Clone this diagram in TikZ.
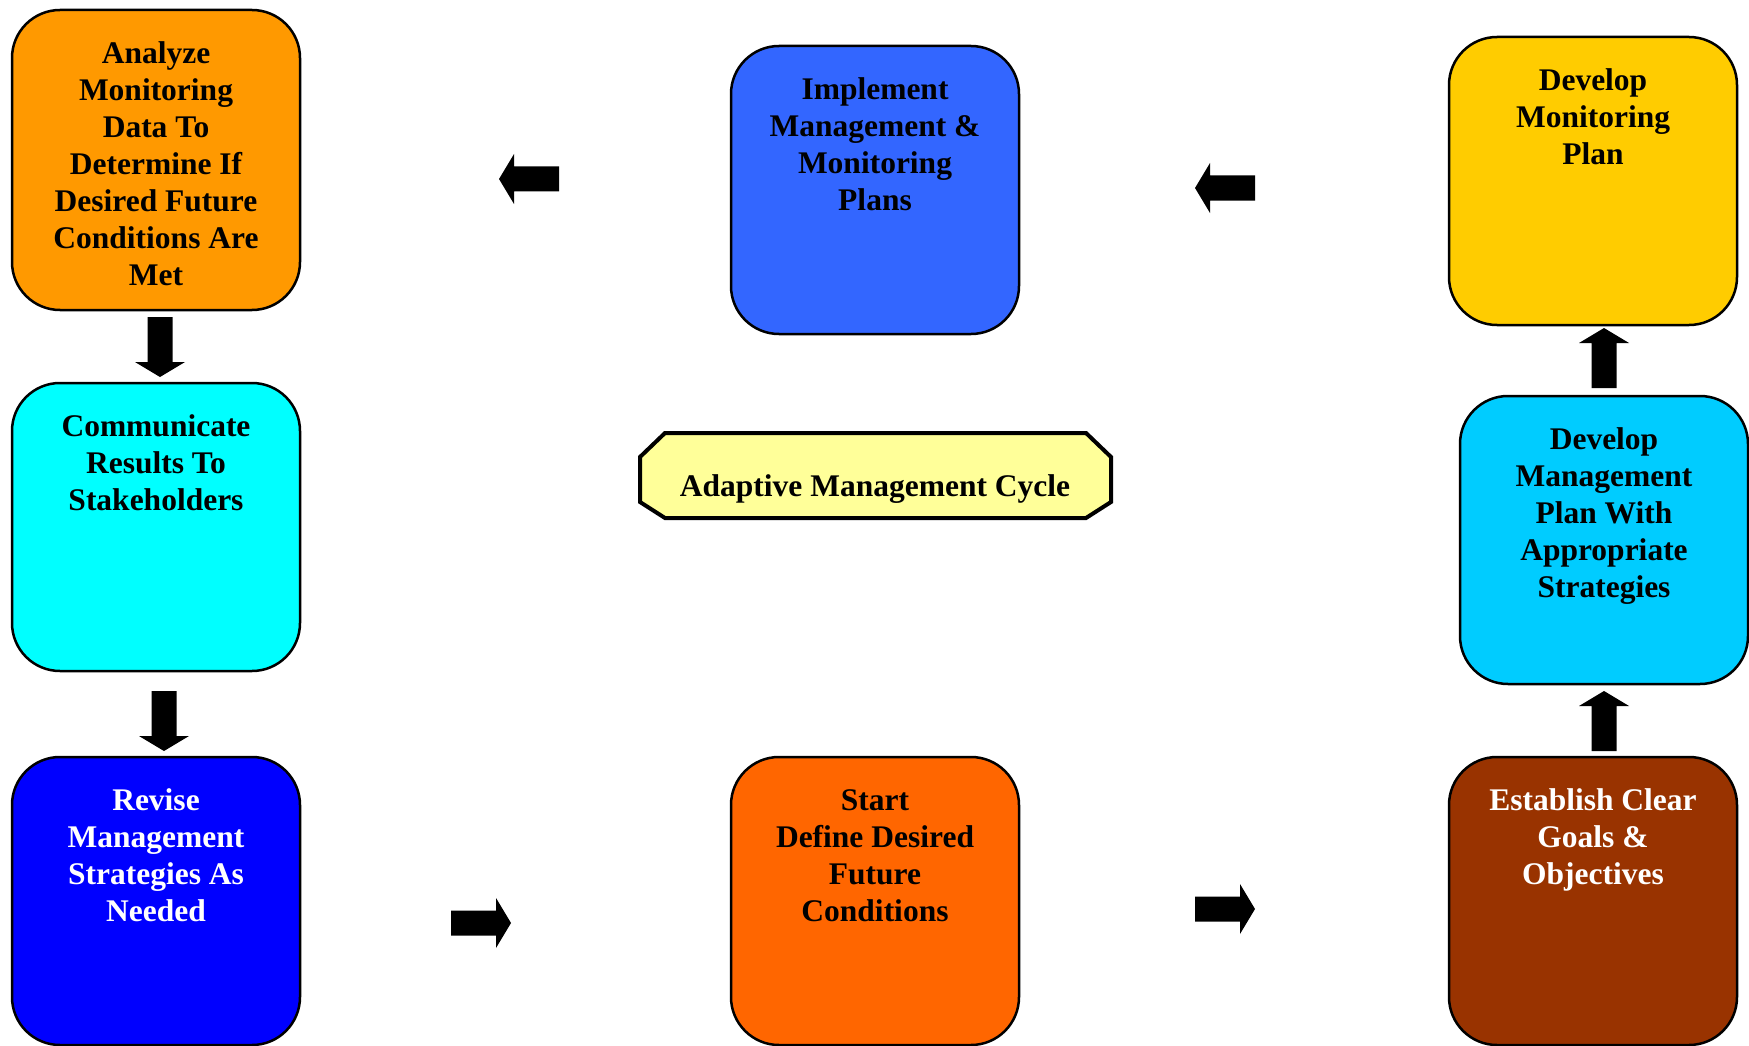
\documentclass[tikz,border=0pt]{standalone}
\usepackage{fontspec}
\setmainfont{Liberation Serif}

\definecolor{analyzeorange}{HTML}{FF9900}
\definecolor{commcyan}{HTML}{00FFFF}
\definecolor{reviseblue}{HTML}{0000FF}
\definecolor{implblue}{HTML}{3366FF}
\definecolor{startorange}{HTML}{FF6600}
\definecolor{monyellow}{HTML}{FFCC00}
\definecolor{mgmtsky}{HTML}{00CCFF}
\definecolor{goalbrown}{HTML}{993300}
\definecolor{cyclecream}{HTML}{FFFF99}

\tikzset{
  stagebox/.style={draw=black, line width=2.5pt, rounded corners=48pt,
    minimum width=288pt, minimum height=288pt, inner sep=0pt},
  stagetext/.style={anchor=base, inner sep=0pt,
    font=\bfseries\fontsize{31.5}{37}\selectfont},
  plate/.style={draw=black, line width=4pt, fill=cyclecream, line join=miter},
  blkarrow/.pic={\fill[black] (-30,-12.5) -- (15,-12.5) -- (15,-25) -- (30,0)
    -- (15,25) -- (15,12.5) -- (-30,12.5) -- cycle;},
}

\begin{document}
\begin{tikzpicture}[x=1pt,y=-1pt]
\useasboundingbox (0,0) rectangle (1749,1046);

% stage boxes
\node[stagebox, fill=analyzeorange, minimum height=300pt] (analyze) at (156,160) {};
\node[stagebox, fill=commcyan] (communicate) at (156,527) {};
\node[stagebox, fill=reviseblue] (revise) at (156,901) {};
\node[stagebox, fill=implblue] (implement) at (875,190) {};
\node[stagebox, fill=startorange] (start) at (875,901) {};
\node[stagebox, fill=monyellow] (monitor) at (1593,181) {};
\node[stagebox, fill=mgmtsky] (mgmtplan) at (1604,540) {};
\node[stagebox, fill=goalbrown] (goals) at (1593,901) {};

% stage captions, first baseline 55pt below the box top
\node[stagetext] (analyze-t) at ([yshift=-55pt]analyze.north)
  {\parbox[t]{280pt}{\centering Analyze\\Monitoring\\Data To\\Determine If\\Desired Future\\Conditions Are\\Met}};
\node[stagetext] (communicate-t) at ([yshift=-55pt]communicate.north)
  {\parbox[t]{280pt}{\centering Communicate\\Results To\\Stakeholders}};
\node[stagetext, text=white] (revise-t) at ([yshift=-55pt]revise.north)
  {\parbox[t]{280pt}{\centering Revise\\Management\\Strategies As\\Needed}};
\node[stagetext] (implement-t) at ([yshift=-55pt]implement.north)
  {\parbox[t]{280pt}{\centering Implement\\Management \&\\Monitoring\\Plans}};
\node[stagetext] (start-t) at ([yshift=-55pt]start.north)
  {\parbox[t]{280pt}{\centering Start\\Define Desired\\Future\\Conditions}};
\node[stagetext] (monitor-t) at ([yshift=-55pt]monitor.north)
  {\parbox[t]{280pt}{\centering Develop\\Monitoring\\Plan}};
\node[stagetext] (mgmtplan-t) at ([yshift=-55pt]mgmtplan.north)
  {\parbox[t]{280pt}{\centering Develop\\Management\\Plan With\\Appropriate\\Strategies}};
\node[stagetext, text=white] (goals-t) at ([yshift=-55pt]goals.north)
  {\parbox[t]{280pt}{\centering Establish Clear\\Goals \&\\Objectives}};

% central title plate (octagon with shallower lower bevels)
\draw[plate] (640,457) -- (665,433) -- (1086,433) -- (1111,457)
  -- (1111,502) -- (1086,518) -- (665,518) -- (640,502) -- cycle;
\node[stagetext] (cycle-t) at (875,496) {Adaptive Management Cycle};

% block arrows of the cycle
\pic[rotate=180] (arrA) at (529,179) {blkarrow};
\pic[rotate=180] (arrB) at (1225,188) {blkarrow};
\pic[rotate=-90] (arrC) at (160,347) {blkarrow};
\pic[rotate=-90] (arrD) at (164,721) {blkarrow};
\pic (arrE) at (481,923) {blkarrow};
\pic (arrF) at (1225,909) {blkarrow};
\pic[rotate=90] (arrG) at (1604,358) {blkarrow};
\pic[rotate=90] (arrH) at (1604,721) {blkarrow};
\end{tikzpicture}
\end{document}
